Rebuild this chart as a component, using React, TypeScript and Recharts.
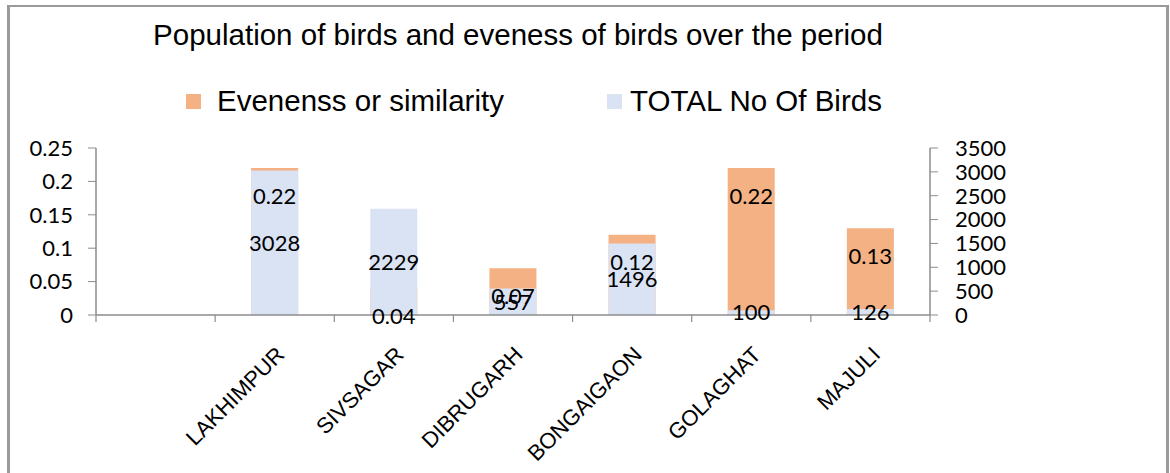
import type { FC } from "react";
import { BarChart, Bar, XAxis, YAxis, Legend, LabelList, Text } from "recharts";

// first slot is an empty category, as in the source sheet
const CATEGORIES = ["", "LAKHIMPUR", "SIVSAGAR", "DIBRUGARH", "BONGAIGAON", "GOLAGHAT", "MAJULI"];
const EVENNESS = [null, 0.22, 0.04, 0.07, 0.12, 0.22, 0.13];
const TOTAL_BIRDS = [null, 3028, 2229, 557, 1496, 100, 126];

const LEFT_TICKS = [0, 0.05, 0.1, 0.15, 0.2, 0.25];
const RIGHT_TICKS = [0, 500, 1000, 1500, 2000, 2500, 3000, 3500];

const TITLE = "Population of birds and eveness of birds over the period";
const EVEN_NAME = "Evenenss or similarity";
const TOTAL_NAME = "TOTAL No Of Birds";

const ORANGE = "#F4B183";
const BLUE = "#DAE3F3";
const AXIS = "#8c8c8c";
const NUM_FONT = "Lato, 'Open Sans', sans-serif";
const TEXT_FONT = "'Liberation Sans', Arial, sans-serif";

const X_TICK_MARGIN = 30;

const data = CATEGORIES.map((name, i) => ({
  name,
  even: EVENNESS[i],
  total: TOTAL_BIRDS[i],
}));

// category label plus Excel-style tick marks on the band edges
const CategoryTick: FC<any> = ({ x, y, payload, index, visibleTicksCount }) => {
  const half = payload?.offset ?? 0;
  const axisY = y - X_TICK_MARGIN;
  const isLast = index === visibleTicksCount - 1;
  return (
    <g>
      <line x1={x - half} x2={x - half} y1={axisY} y2={axisY + 7} stroke={AXIS} strokeWidth={1.2} />
      {isLast && <line x1={x + half} x2={x + half} y1={axisY} y2={axisY + 7} stroke={AXIS} strokeWidth={1.2} />}
      <Text
        x={x}
        y={y}
        angle={-45}
        textAnchor="end"
        verticalAnchor="start"
        fontSize={22}
        fontFamily={TEXT_FONT}
        fill="#000"
      >
        {payload.value}
      </Text>
    </g>
  );
};

const LegendBox: FC = () => (
  <div style={{ position: "relative", height: 65, fontFamily: TEXT_FONT, fontSize: 29.5, color: "#000" }}>
    {[
      { name: EVEN_NAME, color: ORANGE, left: 186, gap: 16 },
      { name: TOTAL_NAME, color: BLUE, left: 607, gap: 8 },
    ].map((item) => (
      <div
        key={item.name}
        style={{ position: "absolute", left: item.left, top: 0, height: 36, display: "flex", alignItems: "center", whiteSpace: "nowrap" }}
      >
        <span style={{ width: 15, height: 15, background: item.color, marginRight: item.gap, display: "inline-block" }} />
        <span style={{ lineHeight: "36px" }}>{item.name}</span>
      </div>
    ))}
  </div>
);

export default function App() {
  return (
    <div style={{ position: "absolute", left: 0, top: 0, width: 1170, height: 473, background: "#fff" }}>
      <div
        style={{
          position: "absolute",
          left: 7,
          top: 5,
          width: 1156,
          height: 480,
          borderLeft: "3px solid #9a9a9a",
          borderTop: "2px solid #9a9a9a",
          borderRight: "3px solid #9a9a9a",
        }}
      />
      <div
        style={{
          position: "absolute",
          left: 0,
          top: 18,
          width: 1036,
          textAlign: "center",
          fontFamily: TEXT_FONT,
          fontSize: 29.5,
          lineHeight: "normal",
          color: "#000",
          whiteSpace: "nowrap",
        }}
      >
        {TITLE}
      </div>
      <BarChart
        width={1170}
        height={473}
        data={data}
        margin={{ top: 83, right: 170, left: 10, bottom: 8 }}
        barSize={47}
        barGap={-47}
        style={{ position: "absolute", left: 0, top: 0 }}
      >
        <XAxis
          dataKey="name"
          interval={0}
          tickLine={false}
          tickSize={0}
          tickMargin={X_TICK_MARGIN}
          height={150}
          axisLine={{ stroke: AXIS, strokeWidth: 1.5 }}
          tick={<CategoryTick />}
        />
        <YAxis
          yAxisId="left"
          domain={[0, 0.25]}
          ticks={LEFT_TICKS}
          interval={0}
          width={86}
          tickSize={8}
          tickMargin={15}
          axisLine={{ stroke: AXIS, strokeWidth: 1.5 }}
          tickLine={{ stroke: AXIS }}
          tick={{ fontSize: 22, fill: "#000", fontFamily: NUM_FONT }}
        />
        <YAxis
          yAxisId="right"
          orientation="right"
          domain={[0, 3500]}
          ticks={RIGHT_TICKS}
          interval={0}
          width={70}
          tickSize={8}
          tickMargin={17}
          axisLine={{ stroke: AXIS, strokeWidth: 1.5 }}
          tickLine={{ stroke: AXIS }}
          tick={{ fontSize: 22, fill: "#000", fontFamily: NUM_FONT }}
        />
        <Legend
          verticalAlign="top"
          content={() => <LegendBox />}
          wrapperStyle={{ left: 0, width: 1170 }}
        />
        <Bar yAxisId="left" dataKey="even" name={EVEN_NAME} fill={ORANGE} isAnimationActive={false} />
        <Bar yAxisId="right" dataKey="total" name={TOTAL_NAME} fill={BLUE} isAnimationActive={false}>
          <LabelList dataKey="total" position="center" fill="#000" fontSize={22} fontFamily={NUM_FONT} />
        </Bar>
        {/* transparent copy so the evenness labels sit above the blue bars */}
        <Bar yAxisId="left" dataKey="even" fill="transparent" legendType="none" isAnimationActive={false}>
          <LabelList dataKey="even" position="insideTop" offset={20} fill="#000" fontSize={22} fontFamily={NUM_FONT} />
        </Bar>
      </BarChart>
    </div>
  );
}
